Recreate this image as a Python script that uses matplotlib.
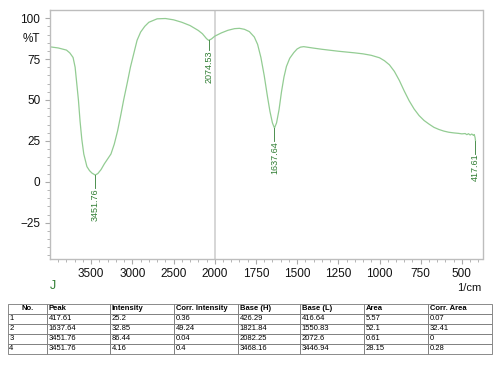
import numpy as np
import matplotlib
matplotlib.use("Agg")
import matplotlib.pyplot as plt
from matplotlib.scale import FuncScale

plt.rcParams['font.family'] = ['Liberation Sans', 'DejaVu Sans']

# spectrum (wavenumber 1/cm, %T)
wavenumber = [4000, 3900, 3800, 3760, 3720, 3695, 3675, 3655, 3635, 3614, 3590,
              3552, 3520, 3490, 3451.76, 3420, 3380, 3340, 3300, 3260, 3220,
              3180, 3140, 3106, 3060, 3024, 2980, 2943, 2900, 2850, 2800, 2700,
              2600, 2500, 2400, 2300, 2200, 2150, 2100, 2074.53, 2040, 2000,
              1960, 1920, 1880, 1850, 1820, 1790, 1760, 1740, 1720, 1700, 1680,
              1665, 1650, 1637.64, 1625, 1610, 1595, 1580, 1565, 1545, 1520,
              1500, 1480, 1460, 1440, 1400, 1350, 1300, 1250, 1200, 1150, 1100,
              1050, 1000, 970, 940, 910, 880, 850, 820, 790, 760, 730, 700, 670,
              640, 610, 580, 550, 520, 500, 480, 470, 460, 450, 440, 430, 425,
              420, 417.61]
transmittance = [82.5, 81.8, 80.5, 78.8, 76, 70, 60, 50, 37, 26, 17,
                 9.3, 6.8, 5.3, 4.16, 5, 7.5, 11, 14, 17, 23,
                 31, 41, 50, 61, 70, 79, 86.5, 91.5, 95, 97.5, 99.6,
                 99.8, 99, 97.5, 95.5, 92.5, 90.5, 87.5, 86.44, 87.3, 89,
                 91, 92.6, 93.6, 93.8, 93.2, 91.8, 88.5, 84, 76, 65, 52,
                 43, 36, 32.85, 36, 44, 55, 64, 70.5, 75.5, 79,
                 81.2, 82.3, 82.6, 82.3, 81.7, 81.0, 80.4, 79.8, 79.3, 78.8, 78.2,
                 77.3, 75.8, 74, 71.5, 67.5, 62, 55.5, 49.5, 44.5, 40.5, 37.5, 35.3, 33.3,
                 32, 31, 30.3, 29.9, 29.6, 29.3, 29.5, 28.8, 29.4, 28.6, 29.2, 28.4, 28.9,
                 27, 25.2]

peak_pos = [3451.76, 2074.53, 1637.64, 417.61]
peak_t = [4.16, 86.44, 32.85, 25.2]
peak_drop = [8, 6, 8, 8]

xticks = [3500, 3000, 2500, 2000, 1750, 1500, 1250, 1000, 750, 500]
yticks = [100, 75, 50, 25, 0, -25]

col_labels = ["No.", "Peak", "Intensity", "Corr. Intensity", "Base (H)",
              "Base (L)", "Area", "Corr. Area"]
table_rows = [
    ["1", "417.61", "25.2", "0.36", "426.29", "416.64", "5.57", "0.07"],
    ["2", "1637.64", "32.85", "49.24", "1821.84", "1550.83", "52.1", "32.41"],
    ["3", "3451.76", "86.44", "0.04", "2082.25", "2072.6", "0.61", "0"],
    ["4", "3451.76", "4.16", "0.4", "3468.16", "3446.94", "28.15", "0.28"],
]
col_px = [39, 63, 64, 64, 62, 64, 64, 64]

line_green = "#93cc93"
text_green = "#2f7d32"
frame_gray = "#bdbdbd"


def fwd(w):
    w = np.asarray(w, dtype=float)
    return np.where(w > 2000, 2000 + (w - 2000) / 2.0, w)


def inv(u):
    u = np.asarray(u, dtype=float)
    return np.where(u > 2000, 2000 + (u - 2000) * 2.0, u)


fig = plt.figure(figsize=(5.0, 3.65), dpi=100)
ax = fig.add_axes([0.1, 0.2912, 0.865, 0.6814])
ax.set_xscale(FuncScale(ax, (fwd, inv)))
ax.set_xlim(4000, 375)
ax.set_ylim(-47, 105)

ax.axvline(2000, color="#cfcfcf", lw=1.2, zorder=1)
ax.plot(wavenumber, transmittance, color=line_green, lw=0.9, zorder=2)

for w, t, d in zip(peak_pos, peak_t, peak_drop):
    ax.plot([w, w], [t, t - d], color=text_green, lw=0.6)
    ax.text(w, t - d, "%.2f" % w, rotation=90, ha="center", va="top",
            fontsize=6.5, color=text_green)

ax.set_xticks(xticks)
ax.set_xticklabels([str(x) for x in xticks])
minor_x = [x for x in list(range(3900, 2000, -100)) + list(range(1950, 375, -50))
           if x not in xticks]
ax.set_xticks(minor_x, minor=True)
ax.set_yticks(yticks)
ax.set_yticks([y for y in range(-45, 105, 5) if y not in yticks], minor=True)

for s in ax.spines.values():
    s.set_color(frame_gray)
    s.set_linewidth(1.0)
ax.tick_params(which="both", direction="out", color="#aaaaaa", labelsize=8.5,
               labelcolor="#111111")
ax.tick_params(which="major", length=3.5, width=0.8, pad=3.5)
ax.tick_params(which="minor", length=2.2, width=0.6)

fig.text(40 / 500, 1 - 39 / 365, "%T", ha="right", va="center", fontsize=8.5,
         color="#111111")
fig.text(50 / 500, 1 - 286 / 365, "J", ha="left", va="center", fontsize=9,
         color=text_green)
fig.text(481 / 500, 1 - 288 / 365, "1/cm", ha="right", va="center", fontsize=8,
         color="#111111")

# peak table
tax = fig.add_axes([8 / 500, 1 - 354 / 365, 484 / 500, 50 / 365])
tax.axis("off")
tot = float(sum(col_px))
tbl = tax.table(cellText=table_rows, colLabels=col_labels, cellLoc="left",
                colLoc="left", colWidths=[c / tot for c in col_px],
                bbox=[0, 0, 1, 1])
tbl.auto_set_font_size(False)
for (r, c), cell in tbl.get_celld().items():
    cell.set_edgecolor("#777777")
    cell.set_linewidth(0.6)
    cell.PAD = 0.03
    cell.get_text().set_fontsize(5.5)
    if r == 0:
        cell.get_text().set_fontweight("bold")
        if c == 0:
            cell._loc = "center"
            cell.get_text().set_ha("center")

fig.savefig("out.png", dpi=100)
